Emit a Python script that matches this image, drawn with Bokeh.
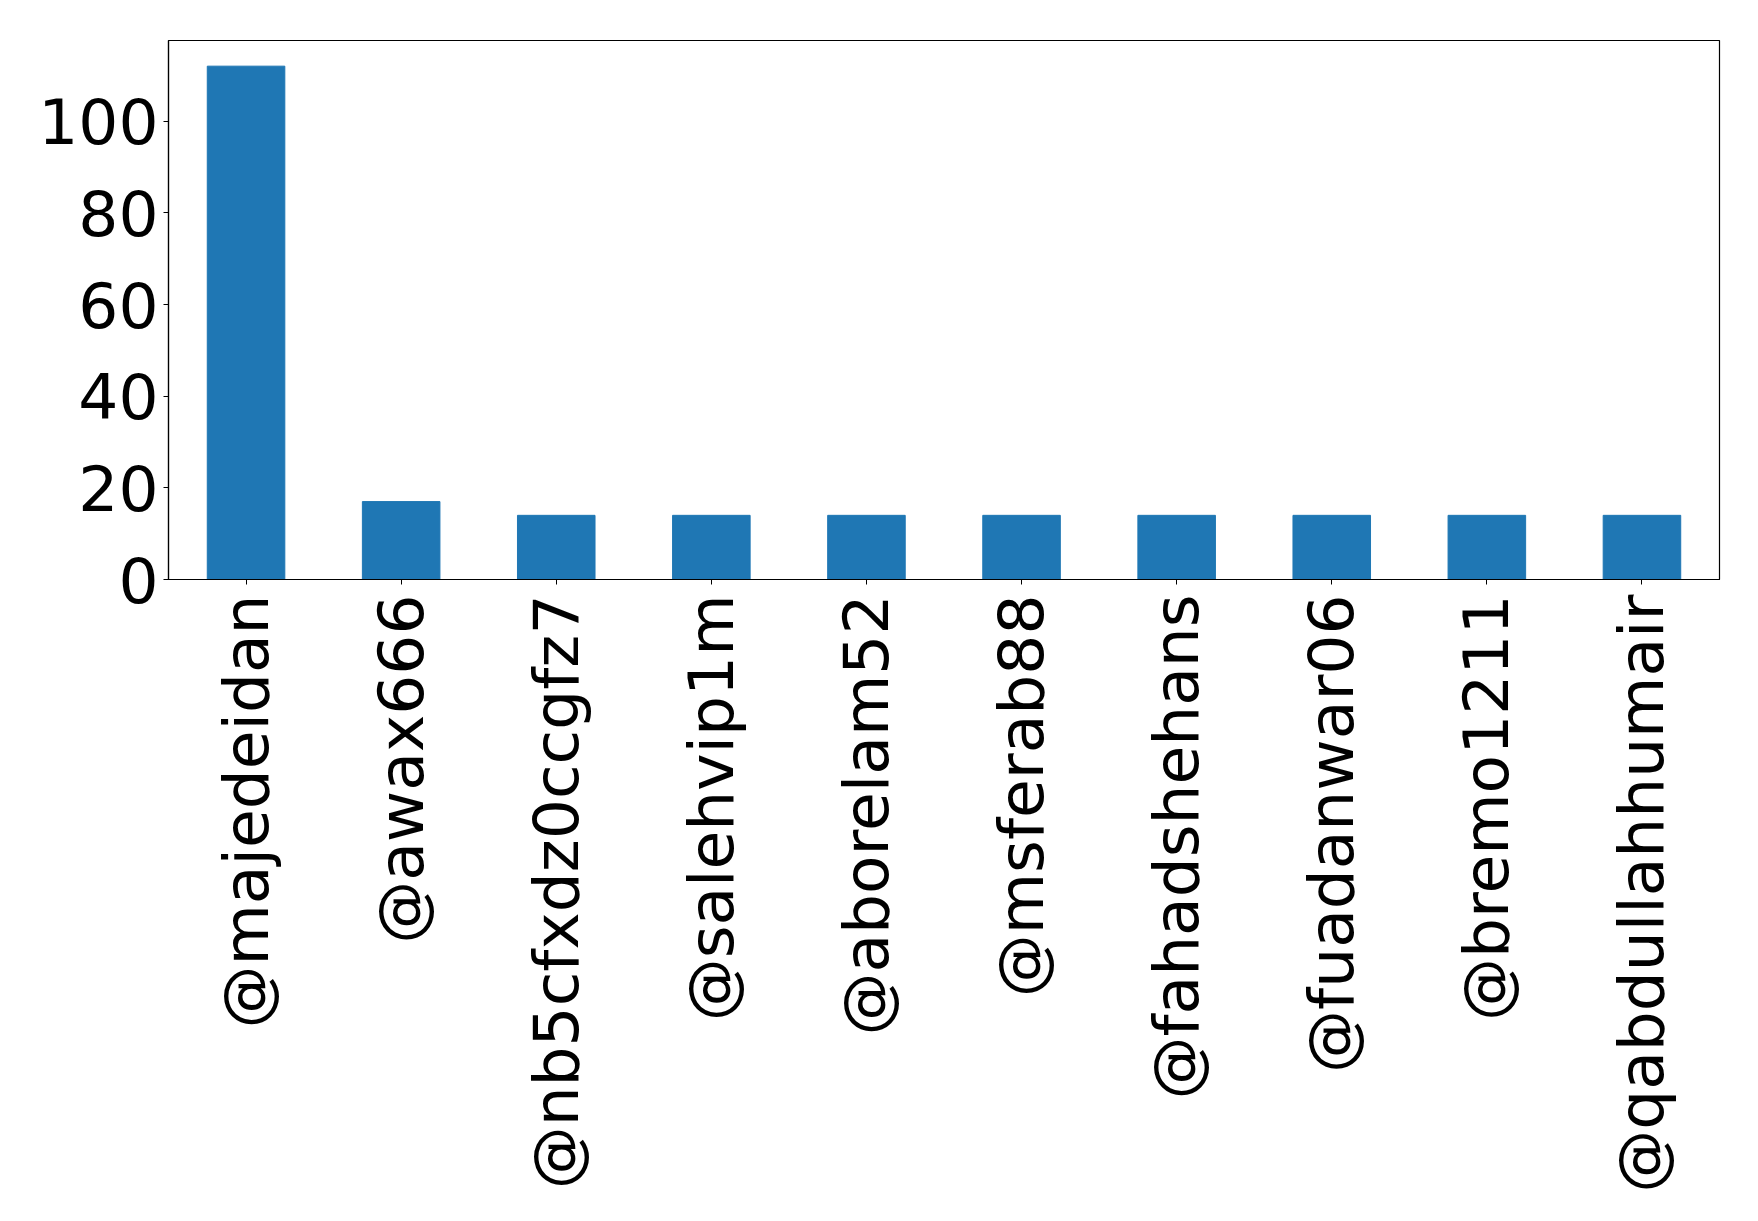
import math
from bokeh.plotting import figure
from bokeh.models import FactorRange, Range1d, FixedTicker
from bokeh.embed import file_html
from bokeh.resources import INLINE

# Accounts and their counts
accounts = ["@majedeidan", "@awax666", "@nb5cfxdz0ccgfz7", "@salehvip1m", "@aborelam52",
            "@msferab88", "@fahadshehans", "@fuadanwar06", "@bremo1211", "@qabdullahhumair"]
counts = [112, 17, 14, 14, 14, 14, 14, 14, 14, 14]
y_ticks = [0, 20, 40, 60, 80, 100]

p = figure(
    width=1758, height=1221,
    x_range=FactorRange(factors=accounts, range_padding=0),
    y_range=Range1d(0, max(counts) * 1.05),
    output_backend="svg", toolbar_location=None,
    min_border_left=168, min_border_right=39, min_border_top=40, min_border_bottom=642,
)

p.vbar(x=accounts, top=counts, width=0.5, color="#1f77b4")

p.xgrid.grid_line_color = None
p.ygrid.grid_line_color = None
p.outline_line_color = "black"
p.outline_line_width = 1.2
p.background_fill_color = "white"
p.border_fill_color = "white"

for ax in (p.xaxis[0], p.yaxis[0]):
    ax.axis_line_color = "black"
    ax.axis_line_width = 1.2
    ax.major_tick_line_color = "black"
    ax.major_tick_out = 5
    ax.major_tick_in = 0
    ax.minor_tick_line_color = None
    ax.major_label_text_font = "DejaVu Sans"
    ax.major_label_text_font_size = "63px"
    ax.major_label_text_color = "black"

p.yaxis.ticker = FixedTicker(ticks=y_ticks)
p.yaxis.major_label_standoff = 5
p.xaxis.major_label_orientation = math.pi / 2
p.xaxis.major_label_standoff = 10

open("out.html", "w").write(file_html(p, INLINE))
